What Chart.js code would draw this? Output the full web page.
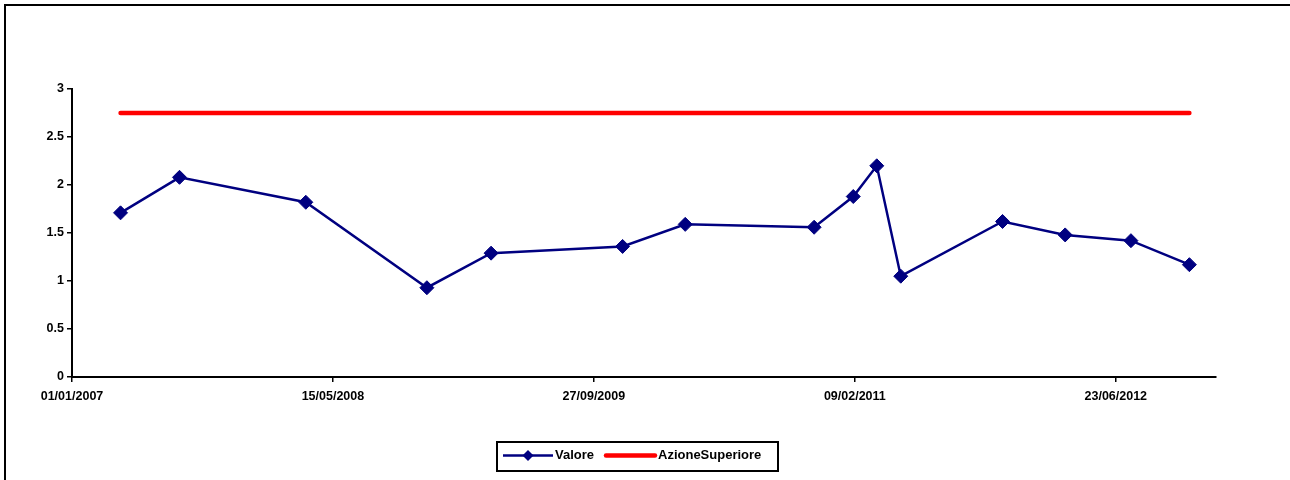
<!DOCTYPE html>
<html>
<head>
<meta charset="utf-8">
<title>Valore</title>
<script src="https://cdn.jsdelivr.net/npm/chart.js@4"></script>
<style>
  html, body { margin: 0; padding: 0; background: #fff; }
  #wrap { width: 1290px; height: 480px; position: relative; }
</style>
</head>
<body>
<div id="wrap"><canvas id="c" width="1290" height="480"></canvas></div>
<script>
// Observation dates and measured values
const dates = [
  '2007-04-04', '2007-07-26', '2008-03-24', '2008-11-11', '2009-03-14',
  '2009-11-21', '2010-03-21', '2010-11-23', '2011-02-06', '2011-03-23',
  '2011-05-08', '2011-11-19', '2012-03-18', '2012-07-22', '2012-11-11'
];
const valore = [1.71, 2.08, 1.82, 0.93, 1.29, 1.36, 1.59, 1.56, 1.88, 2.20, 1.05, 1.62, 1.48, 1.42, 1.17];
const azioneSuperiore = [2.75, 2.75, 2.75, 2.75, 2.75, 2.75, 2.75, 2.75, 2.75, 2.75, 2.75, 2.75, 2.75, 2.75, 2.75];

// Date axis: range and tick dates
const axisStart = '2007-01-01';
const axisEnd = '2013-01-01';
const xTickDates = ['2007-01-01', '2008-05-15', '2009-09-27', '2011-02-09', '2012-06-23'];
const yTicks = [0, 0.5, 1, 1.5, 2, 2.5, 3];

const DAY = 86400000;
function toUTC(s) { const p = s.split('-').map(Number); return Date.UTC(p[0], p[1] - 1, p[2]); }
const origin = toUTC(axisStart);
const dayOf = s => (toUTC(s) - origin) / DAY;
function fmtDate(days) {
  const d = new Date(origin + Math.round(days) * DAY);
  const dd = String(d.getUTCDate()).padStart(2, '0');
  const mm = String(d.getUTCMonth() + 1).padStart(2, '0');
  return dd + '/' + mm + '/' + d.getUTCFullYear();
}

const FONT = "'Liberation Sans', Arial, sans-serif";
const tickFont = { family: FONT, size: 12.5, weight: 'bold' };

// Frame and boxed legend below the plot
const decorations = {
  id: 'decorations',
  afterDraw(chart) {
    const ctx = chart.ctx;
    ctx.save();
    ctx.strokeStyle = '#000';
    ctx.lineWidth = 2;
    ctx.beginPath();
    ctx.moveTo(5, 482);
    ctx.lineTo(5, 5);
    ctx.lineTo(1292, 5);
    ctx.stroke();

    // legend box
    const bx = 497, by = 442, bw = 281, bh = 29;
    ctx.lineWidth = 2;
    ctx.strokeRect(bx, by, bw, bh);
    const cy = by + bh / 2 - 1;
    const ds = chart.data.datasets;

    ctx.font = 'bold 13px ' + FONT;
    ctx.textBaseline = 'middle';
    ctx.fillStyle = '#000';

    // Valore sample
    ctx.strokeStyle = ds[0].borderColor;
    ctx.lineWidth = ds[0].borderWidth;
    ctx.beginPath();
    ctx.moveTo(503, cy); ctx.lineTo(553, cy); ctx.stroke();
    ctx.fillStyle = ds[0].pointBackgroundColor;
    const r = 5.5;
    ctx.beginPath();
    ctx.moveTo(528, cy - r); ctx.lineTo(528 + r, cy); ctx.lineTo(528, cy + r); ctx.lineTo(528 - r, cy);
    ctx.closePath(); ctx.fill();
    ctx.fillStyle = '#000';
    ctx.fillText(ds[0].label, 555, cy);

    // AzioneSuperiore sample
    ctx.strokeStyle = ds[1].borderColor;
    ctx.lineWidth = ds[1].borderWidth;
    ctx.lineCap = 'round';
    ctx.beginPath();
    ctx.moveTo(606, cy); ctx.lineTo(655, cy); ctx.stroke();
    ctx.fillStyle = '#000';
    ctx.fillText(ds[1].label, 658, cy);
    ctx.restore();
  }
};

const xs = dates.map(dayOf);

new Chart(document.getElementById('c'), {
  type: 'line',
  data: {
    datasets: [
      {
        label: 'Valore',
        data: xs.map((x, i) => ({ x, y: valore[i] })),
        borderColor: '#000080',
        backgroundColor: '#000080',
        pointBackgroundColor: '#000080',
        pointBorderColor: '#000080',
        borderWidth: 2.5,
        pointStyle: 'rectRot',
        pointRadius: 7,
        pointBorderWidth: 1,
        tension: 0,
        order: 1
      },
      {
        label: 'AzioneSuperiore',
        data: xs.map((x, i) => ({ x, y: azioneSuperiore[i] })),
        borderColor: '#ff0000',
        backgroundColor: '#ff0000',
        borderWidth: 4.5,
        borderCapStyle: 'round',
        pointRadius: 0,
        tension: 0,
        order: 2
      }
    ]
  },
  options: {
    responsive: false,
    animation: false,
    devicePixelRatio: 1,
    locale: 'en-US',
    layout: { padding: { top: 89, right: 74, left: 0, bottom: 0 } },
    plugins: { legend: { display: false }, tooltip: { enabled: false } },
    scales: {
      x: {
        type: 'linear',
        min: 0,
        max: dayOf(axisEnd),
        offset: false,
        afterFit(s) { s.height = 103; },
        afterBuildTicks(s) { s.ticks = xTickDates.map(d => ({ value: dayOf(d) })); },
        border: { display: true, color: '#000', width: 2 },
        grid: { drawOnChartArea: false, drawTicks: true, tickLength: 5, color: '#000', lineWidth: 1.5 },
        ticks: {
          autoSkip: false,
          maxRotation: 0,
          padding: 7,
          color: '#000',
          font: tickFont,
          callback: v => fmtDate(v)
        }
      },
      y: {
        min: 0,
        max: yTicks[yTicks.length - 1],
        afterFit(s) { s.width = 72; },
        afterBuildTicks(s) { s.ticks = yTicks.map(v => ({ value: v })); },
        border: { display: true, color: '#000', width: 2 },
        grid: { drawOnChartArea: false, drawTicks: true, tickLength: 5, color: '#000', lineWidth: 1.5 },
        ticks: {
          padding: 3,
          color: '#000',
          font: tickFont,
          callback: v => String(v)
        }
      }
    }
  },
  plugins: [decorations]
});
</script>
</body>
</html>
